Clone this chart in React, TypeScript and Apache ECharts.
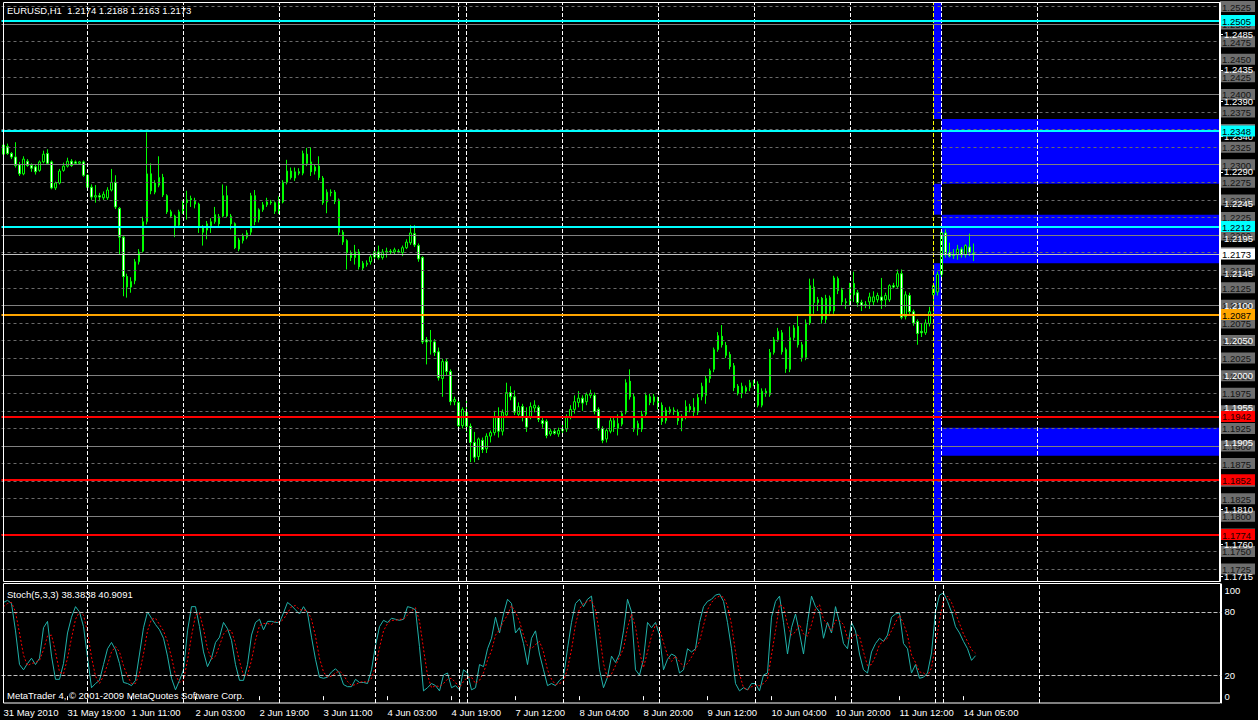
import React, { useEffect, useRef } from "react";
import * as echarts from "echarts";

// EURUSD H1 candles, [open, close, low, high] in price x 10000 (31 May 2010 03:00 .. 14 Jun 2010 08:00)
const candles: number[][] = [
  [12315,12328,12308,12332],[12326,12316,12314,12330],[12316,12311,12308,12318],[12311,12299,12296,12332],[12300,12287,12284,12304],
  [12287,12308,12285,12312],[12305,12299,12297,12308],[12299,12295,12290,12302],[12297,12290,12286,12300],[12292,12304,12290,12306],
  [12304,12315,12302,12320],[12316,12302,12300,12322],[12304,12267,12265,12306],[12267,12274,12264,12276],[12274,12291,12272,12294],
  [12292,12298,12290,12303],[12298,12305,12296,12310],[12305,12299,12297,12308],[12304,12302,12300,12306],[12302,12304,12300,12305],
  [12304,12285,12283,12306],[12285,12268,12265,12287],[12268,12254,12250,12272],[12254,12256,12246,12271],[12256,12254,12248,12260],
  [12253,12258,12250,12262],[12253,12264,12250,12268],[12264,12275,12262,12294],[12275,12240,12237,12285],[12238,12197,12172,12240],
  [12197,12141,12113,12200],[12141,12126,12111,12145],[12126,12134,12118,12140],[12135,12162,12130,12166],[12162,12176,12158,12180],
  [12177,12219,12175,12226],[12219,12287,12215,12346],[12287,12263,12258,12302],[12261,12274,12258,12278],[12271,12282,12268,12312],
  [12282,12257,12254,12287],[12256,12233,12230,12258],[12233,12227,12224,12236],[12227,12213,12197,12229],[12214,12233,12210,12236],
  [12233,12244,12230,12250],[12246,12250,12222,12263],[12250,12252,12240,12256],[12248,12244,12238,12253],[12244,12212,12203,12246],
  [12212,12204,12185,12214],[12207,12216,12194,12220],[12213,12219,12203,12224],[12219,12229,12216,12240],[12226,12216,12210,12230],
  [12227,12256,12225,12272],[12256,12227,12225,12270],[12227,12216,12208,12230],[12216,12182,12180,12218],[12180,12193,12177,12196],
  [12192,12199,12188,12202],[12197,12203,12194,12207],[12204,12256,12200,12260],[12256,12219,12214,12264],[12222,12236,12218,12238],
  [12236,12243,12233,12247],[12243,12247,12240,12253],[12247,12246,12243,12250],[12246,12234,12230,12248],[12234,12248,12230,12255],
  [12247,12275,12245,12278],[12275,12291,12272,12307],[12291,12282,12279,12296],[12281,12290,12277,12296],[12290,12288,12285,12295],
  [12288,12316,12285,12320],[12315,12302,12298,12324],[12304,12290,12284,12325],[12291,12297,12286,12300],[12298,12282,12278,12312],
  [12281,12246,12243,12284],[12247,12261,12231,12265],[12261,12260,12255,12265],[12261,12248,12244,12264],[12250,12204,12200,12252],
  [12204,12190,12186,12207],[12192,12175,12151,12194],[12175,12168,12163,12178],[12168,12176,12158,12186],[12176,12155,12151,12180],
  [12153,12160,12150,12163],[12158,12160,12155,12164],[12162,12169,12158,12172],[12169,12176,12162,12180],[12176,12168,12165,12185],
  [12168,12176,12165,12180],[12176,12177,12168,12182],[12177,12176,12172,12180],[12176,12179,12173,12182],[12177,12176,12174,12180],
  [12175,12182,12170,12185],[12182,12190,12180,12194],[12189,12203,12186,12214],[12202,12186,12183,12214],[12185,12166,12162,12188],
  [12168,12048,12045,12170],[12051,12048,12016,12055],[12049,12050,12030,12065],[12048,12033,12028,12052],[12034,11997,11993,12040],
  [11996,12020,11970,12024],[12020,12006,12001,12025],[12006,11963,11958,12009],[11963,11966,11958,11970],[11962,11929,11925,11966],
  [11929,11952,11925,11955],[11948,11928,11920,11966],[11928,11905,11877,11932],[11905,11884,11877,11920],[11885,11910,11880,11912],
  [11908,11895,11890,11912],[11896,11914,11890,11918],[11914,11919,11905,11922],[11919,11941,11915,11950],[11942,11921,11912,11955],
  [11921,11948,11915,11952],[11944,11976,11940,11990],[11976,11970,11965,11985],[11970,11948,11944,11979],[11945,11956,11941,11962],
  [11956,11942,11935,11960],[11942,11927,11920,11955],[11942,11956,11938,11962],[11954,11958,11948,11965],[11955,11938,11934,11958],
  [11936,11932,11926,11940],[11935,11915,11911,11938],[11917,11921,11914,11924],[11921,11918,11916,11924],[11917,11922,11913,11926],
  [11922,11924,11918,11930],[11924,11941,11920,11945],[11941,11952,11938,11958],[11952,11963,11946,11972],[11962,11968,11955,11978],
  [11968,11961,11950,11972],[11963,11973,11958,11976],[11972,11975,11968,11980],[11972,11949,11945,11976],[11952,11925,11922,11955],
  [11925,11908,11904,11928],[11910,11922,11905,11925],[11921,11936,11918,11940],[11936,11927,11920,11940],[11925,11932,11915,11945],
  [11931,11946,11928,11950],[11948,11990,11945,11995],[11992,11970,11966,12009],[11970,11924,11920,11974],[11924,11932,11915,11936],
  [11924,11945,11920,11950],[11945,11972,11942,11976],[11970,11962,11958,11974],[11963,11970,11958,11974],[11968,11956,11952,11970],
  [11958,11935,11930,11962],[11936,11951,11932,11955],[11948,11952,11945,11956],[11951,11949,11944,11955],[11948,11936,11930,11952],
  [11942,11936,11921,11945],[11942,11956,11938,11965],[11956,11952,11948,11960],[11948,11955,11940,11968],[11948,11969,11944,11974],
  [11970,11985,11965,11990],[11972,11996,11960,12000],[11996,12007,11990,12010],[12009,12037,12005,12040],[12037,12057,12034,12062],
  [12056,12044,12040,12072],[12043,12029,12025,12048],[12030,12013,12009,12034],[12014,11983,11978,12018],[11985,11975,11972,11988],
  [11975,11985,11968,11990],[11983,11978,11974,11986],[11983,11990,11978,11994],[11990,11989,11985,11994],[11988,11958,11955,11992],
  [11958,11978,11955,11982],[11978,11975,11970,11982],[11973,12033,11970,12038],[12033,12051,12030,12055],[12051,12063,12048,12068],
  [12061,12034,12030,12065],[12037,12010,12004,12040],[12009,12054,12005,12070],[12054,12068,12050,12072],[12070,12044,12040,12085],
  [12044,12026,12020,12048],[12026,12075,12022,12080],[12075,12128,12072,12138],[12126,12104,12088,12138],[12108,12104,12092,12112],
  [12110,12080,12074,12112],[12080,12110,12075,12115],[12111,12092,12088,12114],[12092,12139,12088,12142],[12138,12121,12116,12141],
  [12122,12105,12100,12125],[12105,12104,12095,12110],[12104,12129,12100,12132],[12131,12115,12105,12148],[12118,12104,12098,12122],
  [12104,12100,12092,12108],[12101,12100,12096,12106],[12105,12112,12095,12118],[12105,12112,12100,12120],[12108,12114,12104,12118],
  [12112,12107,12095,12139],[12108,12114,12098,12118],[12108,12128,12105,12130],[12128,12126,12124,12132],[12127,12145,12124,12151],
  [12145,12083,12080,12151],[12084,12115,12080,12120],[12114,12091,12087,12118],[12091,12075,12071,12094],[12077,12060,12044,12080],
  [12063,12061,12055,12075],[12061,12075,12058,12080],[12074,12091,12070,12098],[12115,12128,12090,12132],[12119,12144,12114,12148],
  [12144,12204,12140,12208],[12203,12172,12168,12208],[12175,12170,12168,12189],[12172,12171,12166,12180],[12172,12180,12165,12186],
  [12180,12172,12168,12183],[12172,12185,12168,12187],[12183,12175,12170,12202],[12174,12173,12163,12188],
];

// Stochastic(5,3,3) main line (%K) and signal line (%D)
const stochK: number[] = [
  89,91,88,62,30,25,31,36,30,36, 65,71,38,16,16,31,60,75,85,80,
  66,37,8,12,15,30,45,51,44,31, 13,12,10,15,40,65,80,74,68,63,
  55,38,17,6,15,25,62,85,85,66, 42,28,36,51,56,70,64,53,30,15,
  15,30,58,70,73,63,71,71,70,70, 79,89,86,82,78,85,79,56,35,18,
  17,18,23,26,22,11,9,9,16,13, 13,12,25,48,66,72,70,74,73,72,
  73,85,84,82,47,5,8,12,10,5, 20,22,8,10,6,25,22,6,8,30,
  28,45,55,75,60,78,92,88,60,65, 50,30,55,62,40,25,10,12,10,15,
  18,45,70,88,92,85,92,95,60,25, 8,18,38,32,40,62,92,80,25,20,
  35,70,65,70,58,25,35,40,38,22, 25,45,42,45,70,85,90,92,96,97,
  90,70,45,12,5,8,6,12,12,5, 20,22,75,90,95,70,40,65,78,60,
  40,70,95,85,80,55,70,60,85,70, 50,45,70,62,40,25,22,42,50,55,
  52,58,75,78,79,50,45,22,30,17, 18,22,41,80,96,98,90,80,66,60,
  52,45,34,38.38,
];
const stochD: number[] = [
  85,88,89,80,60,39,29,31,32,34, 44,57,58,42,23,21,36,55,73,80,
  77,61,37,19,12,19,30,42,47,42, 29,19,12,12,22,40,62,73,74,68,
  62,52,37,20,13,15,34,57,77,79, 64,45,35,38,48,59,63,62,49,33,
  20,20,34,53,67,69,69,68,71,70, 73,79,85,86,82,82,81,73,57,36,
  23,18,19,22,24,20,14,10,11,13, 14,13,17,28,46,62,69,72,72,73,
  73,77,81,84,71,45,20,8,10,9, 12,16,17,13,8,14,18,18,12,15,
  22,34,43,58,63,71,77,86,80,71, 58,48,45,49,52,42,25,16,11,12,
  14,26,44,68,83,88,90,91,82,60, 31,17,21,29,37,45,65,78,66,42,
  27,42,57,68,64,51,39,33,38,33, 28,31,37,44,52,67,82,89,93,95,
  94,86,68,42,21,8,6,9,10,10, 12,16,39,62,87,85,68,58,61,68,
  59,57,68,83,87,73,68,62,72,72, 68,55,55,59,57,42,29,30,38,49,
  52,55,62,70,77,69,58,39,32,23, 22,19,27,48,72,91,95,89,79,69,
  59,52,44,40.91,
];

// time axis labels, one every 16 bars
const tickLabels = [
  "31 May 2010", "31 May 19:00", "1 Jun 11:00", "2 Jun 03:00", "2 Jun 19:00", "3 Jun 11:00",
  "4 Jun 03:00", "4 Jun 19:00", "7 Jun 12:00", "8 Jun 04:00", "8 Jun 20:00", "9 Jun 12:00",
  "10 Jun 04:00", "10 Jun 20:00", "11 Jun 12:00", "14 Jun 05:00",
];

// horizontal grid levels (every 25 pips) and round levels (solid)
const gridLevels = [
  1.2525, 1.25, 1.2475, 1.245, 1.2425, 1.24, 1.2375, 1.235, 1.2325, 1.23, 1.2275,
  1.225, 1.2225, 1.22, 1.2175, 1.215, 1.2125, 1.21, 1.2075, 1.205, 1.2025, 1.2,
  1.1975, 1.195, 1.1925, 1.19, 1.1875, 1.185, 1.1825, 1.18, 1.1775, 1.175, 1.1725,
];
const roundLevels = [1.25, 1.24, 1.23, 1.22, 1.21, 1.2, 1.19, 1.18];
// price scale tick labels
const scaleLabels = [
  1.2485, 1.2435, 1.239, 1.234, 1.229, 1.2245, 1.2195, 1.2145, 1.21, 1.205, 1.2,
  1.1955, 1.1905, 1.1855, 1.181, 1.176, 1.1715,
];
// support / resistance levels
const levelPrices = [1.2505, 1.2348, 1.2212, 1.2087, 1.1942, 1.1852, 1.1774];
const levelColors = ["cyan", "cyan", "cyan", "orange", "red", "red", "red"];
const bidPrice = 1.2173;
// zones [top, bottom]
const zones = [
  [1.2365, 1.2273],
  [1.2229, 1.216],
  [1.1926, 1.1886],
];
// day separators (bar index)
const separators = [21, 45, 69, 93, 114, 116, 140, 164, 188, 212, 235, 259];
const markerBar = 233;
const zoneStartBar = 235;

const PRICE_MIN = 1.1708;
const PRICE_MAX = 1.253;
const SLOTS = 305;
const FONT = "'Liberation Sans',Arial,sans-serif";
const FS = 9.5;

const HEX: Record<string, string> = { cyan: "#00ffff", orange: "#ffa500", red: "#ff0000" };

export default function App() {
  const ref = useRef<HTMLDivElement>(null);
  useEffect(() => {
    const chart = echarts.init(ref.current!, null, { renderer: "svg" });
    const cats = Array.from({ length: SLOTS }, (_, i) => String(i));
    const ohlc = candles.map((c) => c.map((v) => v / 10000));
    const tickShown = (i: number) => i % 16 === 0 && i / 16 < tickLabels.length;
    const lastBar = SLOTS - 1;

    const gridLines = gridLevels.map((v) => ({
      yAxis: v,
      lineStyle: roundLevels.includes(v)
        ? { color: "#808080", width: 1, type: "solid" }
        : { color: "#6a6a6a", width: 1, type: [3, 3] },
    }));
    const sepLines = separators.map((i) => ({
      xAxis: i,
      lineStyle: { color: "#ffffff", width: 1, type: [4, 2] },
    }));
    const levelLines = levelPrices.map((v, k) => ({
      yAxis: v,
      lineStyle: { color: HEX[levelColors[k]], width: 2, type: "solid" },
    }));

    // zone rectangles [fromBar, toBar, top, bottom]; the vertical band is cut where it meets the zones
    const rects: number[][] = zones.map(([t, b]) => [zoneStartBar, lastBar, t, b]);
    rects.push([markerBar, zoneStartBar, PRICE_MAX, zones[0][0]]);
    rects.push([markerBar, zoneStartBar, zones[0][1], zones[1][0]]);
    rects.push([markerBar, zoneStartBar, zones[1][1], PRICE_MIN]);

    const box = { width: 31, padding: [1, 2, 0, 2], lineHeight: 12, fontSize: FS, fontFamily: FONT };
    const labelRich = {
      g: { ...box, backgroundColor: "#6e6e6e", color: "#141414" },
      cyan: { ...box, backgroundColor: "#00ffff", color: "#000000" },
      orange: { ...box, backgroundColor: "#ffa500", color: "#000000" },
      red: { ...box, backgroundColor: "#ff0000", color: "#200000" },
      bid: { ...box, backgroundColor: "#ffffff", color: "#000000" },
    };

    const priceAxisBase = {
      type: "value",
      gridIndex: 0,
      min: PRICE_MIN,
      max: PRICE_MAX,
      position: "right",
      splitLine: { show: false },
      axisTick: { show: false },
      axisLine: { show: false },
    };

    const option: any = {
      animation: false,
      backgroundColor: "#000000",
      grid: [
        { left: 1.5, width: 1220, top: 3, height: 578 },
        { left: 1.5, width: 1220, top: 584, height: 119 },
      ],
      xAxis: [
        {
          type: "category", gridIndex: 0, data: cats, boundaryGap: true,
          axisLine: { show: false }, axisTick: { show: false }, axisLabel: { show: false }, splitLine: { show: false },
        },
        {
          type: "category", gridIndex: 1, data: cats, boundaryGap: true,
          axisLine: { show: false },
          axisTick: { show: true, interval: (i: number) => tickShown(i), alignWithLabel: true, length: 4, lineStyle: { color: "#ffffff" } },
          axisLabel: {
            interval: (i: number) => tickShown(i),
            formatter: (_v: string, i: number) => tickLabels[i / 16] ?? "",
            align: "left", color: "#ffffff", fontSize: FS, fontFamily: FONT, margin: 4,
          },
          splitLine: { show: false },
        },
      ],
      yAxis: [
        {
          ...priceAxisBase,
          axisLabel: {
            customValues: gridLevels, margin: 1, formatter: (v: number) => `{g|${v.toFixed(4)}}`, rich: labelRich,
          },
        },
        {
          ...priceAxisBase,
          axisLine: { show: true, lineStyle: { color: "#ffffff" } },
          axisTick: { show: true, customValues: scaleLabels, length: 4, lineStyle: { color: "#ffffff" } },
          axisLabel: {
            customValues: scaleLabels, margin: 5, color: "#ffffff", fontSize: FS, fontFamily: FONT,
            formatter: (v: number) => v.toFixed(4),
          },
        },
        {
          ...priceAxisBase,
          axisLabel: {
            customValues: [...levelPrices, bidPrice], margin: 1, rich: labelRich,
            formatter: (v: number) => {
              const k = levelPrices.findIndex((p) => Math.abs(p - v) < 1e-7);
              return `{${k >= 0 ? levelColors[k] : "bid"}|${v.toFixed(4)}}`;
            },
          },
        },
        {
          type: "value", gridIndex: 1, min: -6.5, max: 106.5, position: "right",
          splitLine: { show: false }, axisTick: { show: false },
          axisLine: { show: true, lineStyle: { color: "#ffffff" } },
          axisLabel: { customValues: [0, 20, 80, 100], margin: 3, color: "#ffffff", fontSize: FS, fontFamily: FONT },
        },
      ],
      series: [
        {
          name: "zones", type: "custom", xAxisIndex: 0, yAxisIndex: 0, z: 1, silent: true, clip: true,
          data: rects,
          encode: { x: [0, 1], y: [2, 3] },
          renderItem: (params: any, api: any) => {
            const p0 = api.coord([api.value(0), api.value(2)]);
            const p1 = api.coord([api.value(1), api.value(3)]);
            const right = api.value(1) >= lastBar ? params.coordSys.x + params.coordSys.width : p1[0];
            return {
              type: "rect",
              shape: { x: p0[0], y: p0[1], width: right - p0[0], height: p1[1] - p0[1] },
              style: { fill: "#0000ff" },
            };
          },
        },
        {
          name: "levels", type: "line", xAxisIndex: 0, yAxisIndex: 0, data: [], z: 2, silent: true,
          markLine: {
            silent: true, symbol: ["none", "none"], label: { show: false }, precision: 5,
            data: [
              ...gridLines,
              ...sepLines,
              { xAxis: markerBar, lineStyle: { color: "#ffff00", width: 1, type: [4, 2] } },
              ...levelLines,
              { yAxis: bidPrice, lineStyle: { color: "#c0c0c0", width: 1, type: "solid" } },
            ],
          },
        },
        {
          name: "EURUSD", type: "candlestick", xAxisIndex: 0, yAxisIndex: 0, z: 3, data: ohlc, barWidth: 2,
          itemStyle: { color: "#000000", color0: "#ffffff", borderColor: "#00ff00", borderColor0: "#00ff00", borderWidth: 1 },
        },
        {
          name: "stochLevels", type: "line", xAxisIndex: 1, yAxisIndex: 3, data: [], z: 1, silent: true,
          markLine: {
            silent: true, symbol: ["none", "none"], label: { show: false }, precision: 3,
            data: [
              { yAxis: 80, lineStyle: { color: "#c0c0c0", width: 1, type: [4, 2] } },
              { yAxis: 20, lineStyle: { color: "#c0c0c0", width: 1, type: [4, 2] } },
              ...sepLines,
              { xAxis: markerBar, lineStyle: { color: "#ffffff", width: 1, type: [4, 2] } },
            ],
          },
        },
        {
          name: "%K", type: "line", xAxisIndex: 1, yAxisIndex: 3, data: stochK, z: 3,
          showSymbol: false, symbol: "none", lineStyle: { color: "#20b2aa", width: 1 },
        },
        {
          name: "%D", type: "line", xAxisIndex: 1, yAxisIndex: 3, data: stochD, z: 4,
          showSymbol: false, symbol: "none", lineStyle: { color: "#ff0000", width: 1, type: [2, 2] },
        },
      ],
      graphic: [
        { type: "rect", silent: true, z: 100, shape: { x: 3.5, y: 2.5, width: 1217, height: 579 }, style: { fill: "none", stroke: "#ffffff", lineWidth: 1 } },
        { type: "rect", silent: true, z: 100, shape: { x: 3.5, y: 583.5, width: 1217, height: 119.5 }, style: { fill: "none", stroke: "#ffffff", lineWidth: 1 } },
        { type: "text", silent: true, z: 100, x: 7, y: 10, style: { text: "EURUSD,H1  1.2174 1.2188 1.2163 1.2173", fill: "#ffffff", font: `${FS}px ${FONT}`, verticalAlign: "middle" } },
        { type: "text", silent: true, z: 100, x: 7, y: 594, style: { text: "Stoch(5,3,3) 38.3838 40.9091", fill: "#ffffff", font: `${FS}px ${FONT}`, verticalAlign: "middle" } },
        { type: "text", silent: true, z: 100, x: 7, y: 695, style: { text: "MetaTrader 4, © 2001-2009 MetaQuotes Software Corp.", fill: "#ffffff", font: `${FS}px ${FONT}`, verticalAlign: "middle" } },
      ],
    };
    chart.setOption(option);
    return () => chart.dispose();
  }, []);
  return (
    <div
      ref={ref}
      style={{ position: "fixed", left: 0, top: 0, width: 1258, height: 720, background: "#000000" }}
    />
  );
}
